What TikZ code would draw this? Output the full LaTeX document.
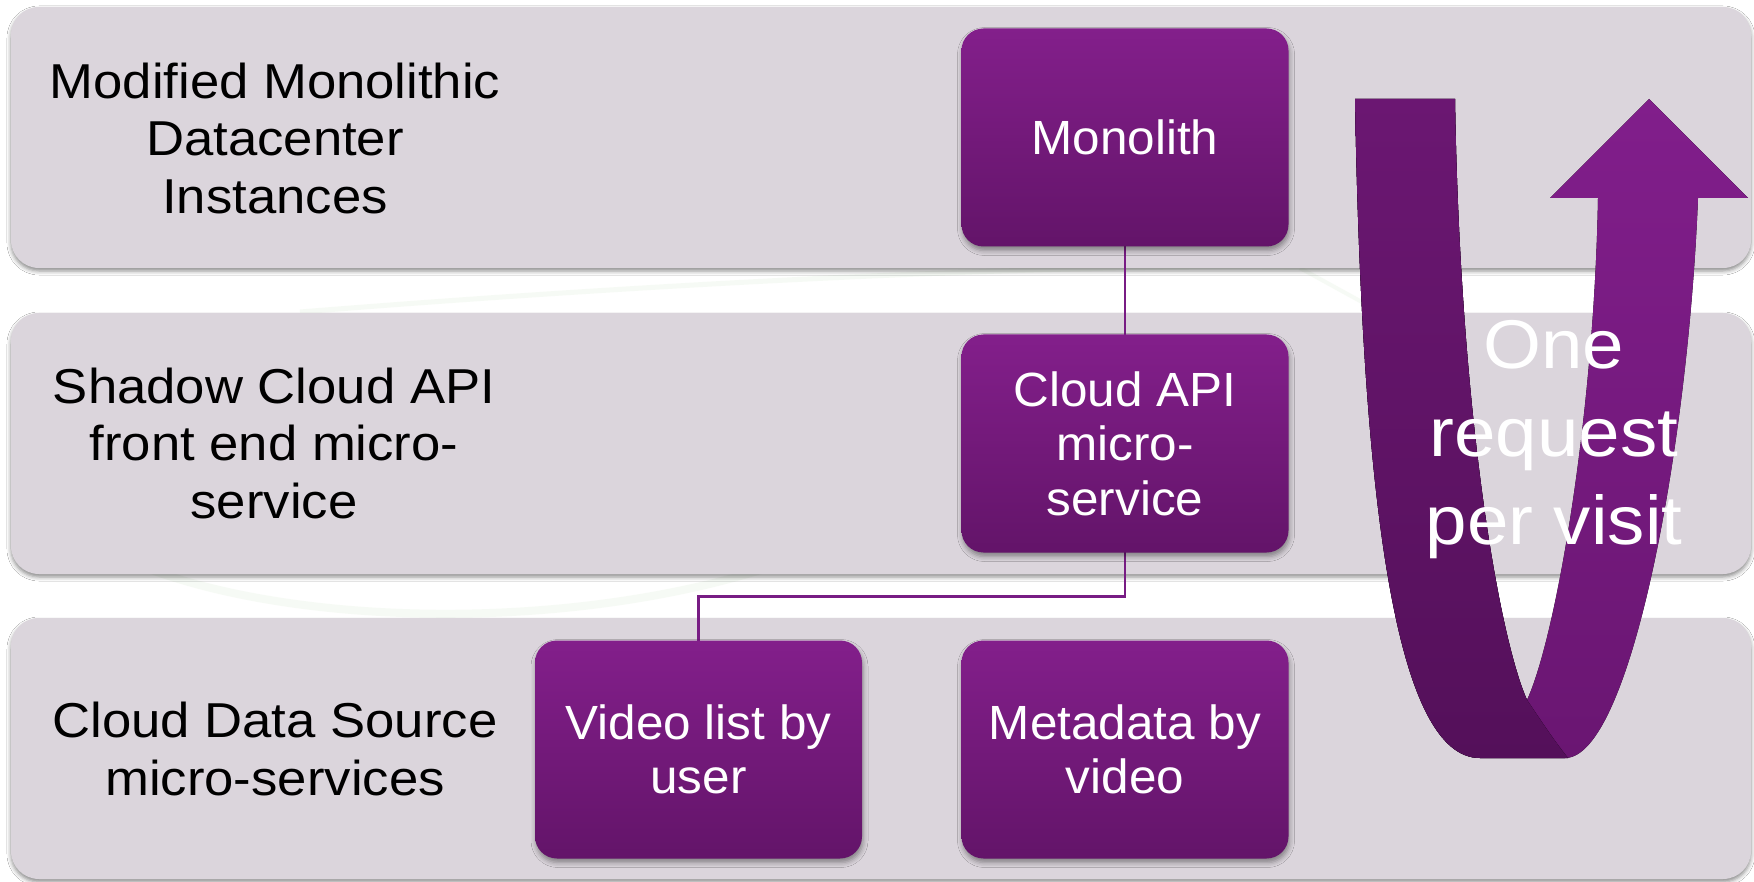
\documentclass[tikz,border=0pt]{standalone}
\usepackage{fontspec}
\setmainfont{Liberation Sans}
\newfontfamily\lblfont{Liberation Sans}[FakeStretch=1.075]
\newfontfamily\boxfont{Liberation Sans}[FakeStretch=1.03]
\newfontfamily\bigfont{Liberation Sans}[FakeStretch=1.08]
\usetikzlibrary{shadows.blur}

\definecolor{bandfill}{RGB}{219,213,220}
\definecolor{boxtop}{RGB}{131,31,139}
\definecolor{boxbot}{RGB}{99,20,105}
\definecolor{linkcol}{RGB}{120,28,132}
\definecolor{ribdarktop}{RGB}{107,23,114}
\definecolor{ribdarkbot}{RGB}{84,16,90}
\definecolor{ribtop}{RGB}{129,30,139}
\definecolor{ribbot}{RGB}{106,22,114}
\definecolor{swoosh}{RGB}{228,241,222}

\begin{document}
\begin{tikzpicture}[x=1pt,y=-1pt,
  band/.style={draw=none, fill=bandfill, rounded corners=28pt,
    minimum width=1740pt, minimum height=261pt, inner sep=0pt,
    blur shadow={shadow xshift=0pt, shadow yshift=-3pt,
      shadow blur radius=4pt, shadow opacity=45}},
  lbl/.style={align=center, inner sep=0pt, text=black,
    font=\lblfont\fontsize{49}{57.5}\selectfont},
  svc/.style={draw=none, rounded corners=22pt, minimum width=327pt,
    minimum height=218pt, inner sep=0pt, top color=boxtop,
    bottom color=boxbot, text=white, align=center,
    font=\boxfont\fontsize{48}{54.5}\selectfont,
    blur shadow={shadow xshift=1pt, shadow yshift=-4pt,
      shadow blur radius=5pt, shadow opacity=40}},
  conn/.style={draw=linkcol, line width=2.2pt},
  bigtxt/.style={align=center, inner sep=0pt, text=white,
    font=\bigfont\fontsize{69}{88}\selectfont},
]
\useasboundingbox (0,0) rectangle (1754,882);
\fill[white] (0,0) rectangle (1754,882);

% faint background swooshes
\draw[swoosh, line width=8pt, opacity=0.3]
  (60,520) .. controls (200,640) and (650,650) .. (880,520);
\draw[swoosh, line width=5pt, opacity=0.3]
  (300,312) .. controls (700,280) and (1100,262) .. (1320,268);
\draw[swoosh, line width=4pt, opacity=0.3]
  (1300,268) -- (1380,312);

% layer bands
\node[band] (b1) at (881,137.5) {};
\node[band] (b2) at (881,443.5) {};
\node[band] (b3) at (881,748.5) {};

% layer labels
\node[lbl] (l1) at (275,138) {Modified Monolithic\\Datacenter\\Instances};
\node[lbl] (l2) at (274,443) {Shadow Cloud API\\front end micro-\\service};
\node[lbl] (l3) at (275,749) {Cloud Data Source\\micro-services};

% connectors (behind the service boxes)
\coordinate (mono-c) at (1125,137.5);
\coordinate (api-c) at (1125,443.5);
\coordinate (vid-c) at (698.5,749.5);
\draw[conn] (mono-c) -- (api-c);
\draw[conn] (api-c) -- ++(0,153) -| (vid-c);

% service boxes
\node[svc] (mono) at (mono-c) {Monolith};
\node[svc] (api) at (api-c) {Cloud API\\micro-\\service};
\node[svc] (vid) at (vid-c) {Video list by\\user};
\node[svc] (meta) at (1125,749.5) {Metadata by\\video};

% U-shaped request ribbon: whole band with arrow head
\fill[top color=ribtop, bottom color=ribbot]
  (1355,99) .. controls (1362,500) and (1395,758) .. (1480,758)
  -- (1565,758)
  .. controls (1630,758) and (1688,450) .. (1698,198)
  -- (1748,198) -- (1649,99) -- (1550,198) -- (1598,198)
  .. controls (1594,420) and (1555,640) .. (1527,700)
  .. controls (1500,640) and (1460,420) .. (1455,99) -- cycle;
% descending strand, darker, folding over at the bottom
\fill[top color=ribdarktop, bottom color=ribdarkbot]
  (1355,99) .. controls (1362,500) and (1395,758) .. (1480,758)
  -- (1568,758)
  .. controls (1552,738) and (1538,716) .. (1527,700)
  .. controls (1500,640) and (1460,420) .. (1455,99) -- cycle;

\node[bigtxt] (visit) at (1554,440) {One\\request\\per visit};
\end{tikzpicture}
\end{document}
